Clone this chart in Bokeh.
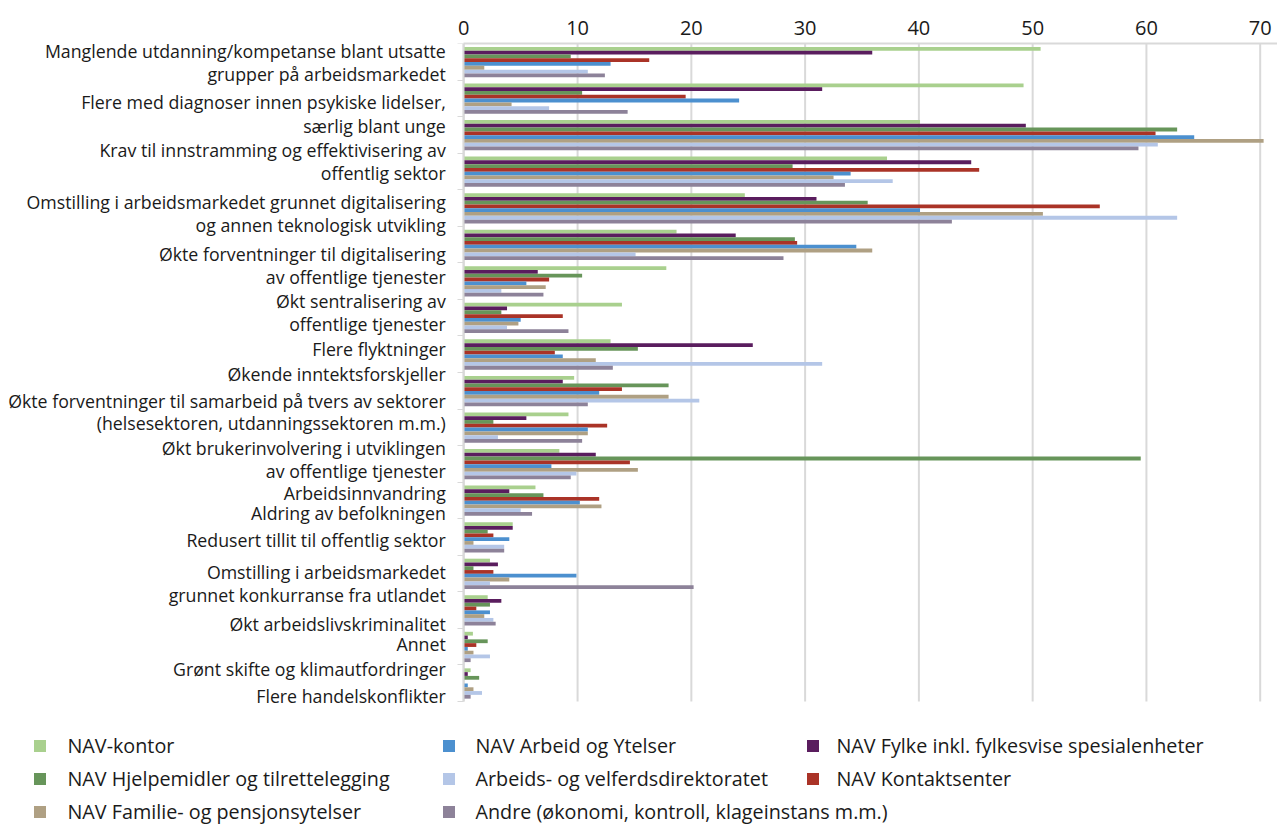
import numpy as np
from bokeh.plotting import figure
from bokeh.models import (Range1d, FixedTicker, Legend, LegendItem,
                          ColumnDataSource)
from bokeh.transform import dodge
from bokeh.embed import file_html
from bokeh.resources import INLINE

# ---------------- data ----------------
categories = [
    "Manglende utdanning/kompetanse blant utsatte\ngrupper på arbeidsmarkedet",
    "Flere med diagnoser innen psykiske lidelser,\nsærlig blant unge",
    "Krav til innstramming og effektivisering av\noffentlig sektor",
    "Omstilling i arbeidsmarkedet grunnet digitalisering\nog annen teknologisk utvikling",
    "Økte forventninger til digitalisering\nav offentlige tjenester",
    "Økt sentralisering av\noffentlige tjenester",
    "Flere flyktninger",
    "Økende inntektsforskjeller",
    "Økte forventninger til samarbeid på tvers av sektorer\n(helsesektoren, utdanningssektoren m.m.)",
    "Økt brukerinvolvering i utviklingen\nav offentlige tjenester",
    "Arbeidsinnvandring",
    "Aldring av befolkningen",
    "Redusert tillit til offentlig sektor",
    "Omstilling i arbeidsmarkedet\ngrunnet konkurranse fra utlandet",
    "Økt arbeidslivskriminalitet",
    "Annet",
    "Grønt skifte og klimautfordringer",
    "Flere handelskonflikter",
]

series_names = [
    "NAV-kontor",
    "NAV Fylke inkl. fylkesvise spesialenheter",
    "NAV Hjelpemidler og tilrettelegging",
    "NAV Kontaktsenter",
    "NAV Arbeid og Ytelser",
    "NAV Familie- og pensjonsytelser",
    "Arbeids- og velferdsdirektoratet",
    "Andre (økonomi, kontroll, klageinstans m.m.)",
]

nav_kontor     = [50.7, 49.2, 40.1, 37.2, 24.7, 18.7, 17.8, 13.9, 12.9, 9.7, 9.2, 8.4, 6.3, 4.3, 2.3, 2.1, 0.8, 0.6]
nav_fylke      = [35.9, 31.5, 49.4, 44.6, 31.0, 23.9, 6.5, 3.8, 25.4, 8.7, 5.5, 11.6, 4.0, 4.3, 3.0, 3.3, 0.35, 0.35]
nav_hjelpemidl = [9.4, 10.4, 62.7, 28.9, 35.5, 29.1, 10.4, 3.3, 15.3, 18.0, 2.6, 59.5, 7.0, 2.1, 0.85, 2.3, 2.1, 1.35]
nav_kontakts   = [16.3, 19.5, 60.8, 45.3, 55.9, 29.3, 7.5, 8.7, 8.0, 13.9, 12.6, 14.6, 11.9, 2.6, 2.6, 1.1, 1.1, 0.0]
nav_arbeid_ytl = [12.9, 24.2, 64.2, 34.0, 40.1, 34.5, 5.5, 5.0, 8.7, 11.9, 10.9, 7.7, 10.2, 4.0, 9.9, 2.3, 0.35, 0.35]
nav_familie    = [1.8, 4.2, 70.3, 32.5, 50.9, 35.9, 7.2, 4.8, 11.6, 18.0, 10.9, 15.3, 12.1, 0.85, 4.0, 1.8, 0.85, 0.85]
direktoratet   = [10.9, 7.5, 61.0, 37.7, 62.7, 15.1, 3.3, 3.8, 31.5, 20.7, 3.0, 9.9, 5.0, 3.55, 2.3, 2.6, 2.3, 1.6]
andre          = [12.4, 14.4, 59.3, 33.5, 42.9, 28.1, 7.0, 9.2, 13.1, 10.9, 10.4, 9.4, 6.0, 3.55, 20.2, 2.8, 0.6, 0.6]

series_values = [nav_kontor, nav_fylke, nav_hjelpemidl, nav_kontakts,
                 nav_arbeid_ytl, nav_familie, direktoratet, andre]

x_ticks = [0, 10, 20, 30, 40, 50, 60, 70]

# ---------------- style / layout ----------------
colors = ["#a9d08e", "#5a1d5e", "#67955a", "#aa3327",
          "#4c90cf", "#afa083", "#b4c6e7", "#8d8299"]

W, H = 1277, 825
ZERO_X, X70 = 463.3, 1259.7          # pixel positions of value 0 and 70
FRAME_T, BARS_B = 43, 701
N = len(categories)
PX_PER_CAT = (BARS_B - FRAME_T) / N
PX_PER_UNIT = (X70 - ZERO_X) / 70
X_START = -ZERO_X / PX_PER_UNIT
X_END = (W - ZERO_X) / PX_PER_UNIT
Y_END = (H - FRAME_T) / PX_PER_CAT

# vertical pixel centre of each label line (layout only)
label_line_px = [50, 73, 101.5, 125, 149, 172, 202, 225, 253, 276, 300, 323,
                 348, 373, 400, 423, 447, 471, 493, 513, 539, 572, 595, 623,
                 644, 669, 695]

FONT = "Open Sans"
TEXT = "#1a1a1a"
GRID = "#d9d9d9"

p = figure(width=W, height=H, output_backend="svg", toolbar_location=None,
           x_range=Range1d(X_START, X_END), y_range=Range1d(Y_END, 0),
           x_axis_location="above",
           min_border_left=0, min_border_right=0,
           min_border_top=FRAME_T, min_border_bottom=0)
p.outline_line_color = None
p.background_fill_color = "white"
p.xgrid.visible = False
p.ygrid.visible = False

# vertical grid lines, limited to the category area
p.segment(x0=x_ticks, x1=x_ticks, y0=[0] * len(x_ticks), y1=[N] * len(x_ticks),
          line_color=GRID, line_width=2, level="underlay")

pos = np.arange(N, dtype=float)
src = ColumnDataSource(dict(pos=pos, **{f"s{k}": v for k, v in enumerate(series_values)}))

first_off = 0.145
pitch = 0.1036
renderers = []
for k, name in enumerate(series_names):
    r = p.hbar(y=dodge("pos", first_off + k * pitch, range=p.y_range),
               left=0, right=f"s{k}", height=pitch, source=src,
               fill_color=colors[k], line_color=None)
    renderers.append(r)

# x axis (top)
xa = p.xaxis[0]
xa.bounds = (0, X_END)
xa.ticker = FixedTicker(ticks=x_ticks)
xa.major_tick_line_color = None
xa.minor_tick_line_color = None
xa.major_tick_out = 0
xa.major_tick_in = 0
xa.axis_line_color = GRID
xa.axis_line_width = 2
xa.major_label_text_font = FONT
xa.major_label_text_font_size = "20px"
xa.major_label_text_color = TEXT
xa.major_label_standoff = 9

# y axis pinned at value 0, with multi-line category labels
line_texts = []
for c in categories:
    line_texts.extend(c.split("\n"))
line_pos = [round((py - FRAME_T) / PX_PER_CAT, 4) for py in label_line_px]

ya = p.yaxis[0]
ya.fixed_location = 0
ya.bounds = (0, N)
ya.ticker = FixedTicker(ticks=line_pos, minor_ticks=list(range(N + 1)))
ya.major_label_overrides = {lp: t for lp, t in zip(line_pos, line_texts)}
ya.major_tick_line_color = None
ya.major_tick_out = 0
ya.major_tick_in = 0
ya.minor_tick_line_color = GRID
ya.minor_tick_line_width = 1
ya.minor_tick_out = 6
ya.minor_tick_in = 0
ya.axis_line_color = GRID
ya.axis_line_width = 2
ya.major_label_text_font = FONT
ya.major_label_text_font_size = "17.75px"
ya.major_label_text_color = TEXT
ya.major_label_standoff = 12

# legends: three manual columns inside the frame, below the bars
ITEM_H, SPACING = 28, 5
GLYPH = 15
columns = [
    ([0, 2, 5], 31.5, 21),
    ([4, 6, 7], 440.5, 20),
    ([1, 3], 804.5, 17),
]
first_row_center = 745
top_px = first_row_center - ITEM_H / 2
for idxs, cx, standoff in columns:
    items = [LegendItem(label=series_names[i], renderers=[renderers[i]]) for i in idxs]
    n = len(items)
    lh = n * ITEM_H + (n - 1) * SPACING
    lg = Legend(items=items, location=(cx, H - (top_px + lh)),
                orientation="vertical", border_line_color=None,
                background_fill_alpha=0, padding=0, margin=0,
                spacing=SPACING, glyph_width=GLYPH, glyph_height=GLYPH,
                label_height=ITEM_H, label_standoff=standoff,
                label_text_font=FONT, label_text_font_size="19.75px",
                label_text_color=TEXT)
    p.add_layout(lg, "center")

open("out.html", "w").write(file_html(p, INLINE))
